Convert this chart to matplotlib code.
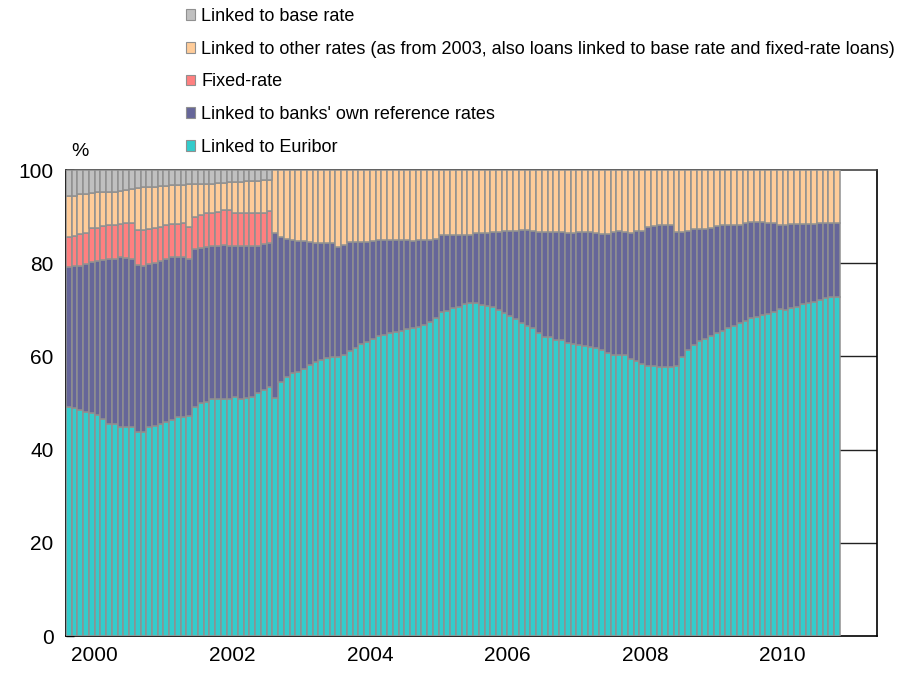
import numpy as np
import matplotlib
matplotlib.use("Agg")
import matplotlib.pyplot as plt
from matplotlib.patches import Patch

plt.rcParams['font.family'] = ['Liberation Sans', 'DejaVu Sans']

# Monthly observations, Jan 2000 - Mar 2011 (upper edge of each stacked band, %)
euribor = [49.2, 48.9, 48.5, 48.0, 47.8, 47.4, 46.5, 45.6, 45.6, 44.9, 44.9, 44.9,
           43.8, 43.8, 44.8, 45.1, 45.5, 46.0, 46.4, 46.9, 47.1, 47.2, 49.2, 49.9,
           50.3, 50.8, 50.8, 50.8, 50.8, 51.2, 50.8, 51.0, 51.2, 52.1, 52.8, 53.5,
           51.0, 54.6, 55.5, 56.4, 56.7, 57.4, 58.2, 58.9, 59.2, 59.6, 59.9, 59.9,
           60.4, 61.2, 61.7, 62.7, 63.0, 63.7, 64.4, 64.6, 65.0, 65.3, 65.5, 65.8,
           66.0, 66.4, 66.7, 67.4, 68.2, 69.6, 69.8, 70.3, 70.7, 71.2, 71.4, 71.4,
           71.0, 70.8, 70.7, 70.0, 69.4, 68.7, 68.0, 67.2, 66.5, 66.0, 65.1, 64.1,
           64.1, 63.5, 63.5, 62.9, 62.7, 62.4, 62.2, 62.0, 61.7, 61.4, 60.8, 60.4,
           60.3, 60.2, 59.4, 59.0, 58.4, 58.0, 58.0, 57.8, 57.8, 57.8, 58.0, 59.9,
           61.4, 62.4, 63.2, 63.7, 64.4, 65.1, 65.5, 66.0, 66.5, 67.1, 67.7, 68.2,
           68.5, 68.9, 69.2, 69.6, 70.1, 70.0, 70.3, 70.7, 71.2, 71.5, 71.7, 72.1,
           72.5, 72.7, 72.8]

banks_own_top = [79.1, 79.3, 79.4, 79.8, 80.3, 80.5, 80.7, 80.9, 80.9, 81.3, 81.1, 81.0,
                 79.6, 79.4, 79.8, 80.0, 80.5, 80.8, 81.3, 81.4, 81.4, 80.8, 83.0, 83.2,
                 83.4, 83.7, 83.7, 83.9, 83.6, 83.7, 83.7, 83.7, 83.7, 83.7, 84.1, 84.3,
                 86.4, 85.6, 85.3, 85.0, 84.8, 84.7, 84.5, 84.4, 84.3, 84.3, 84.3, 83.5,
                 83.9, 84.5, 84.5, 84.5, 84.5, 84.8, 85.0, 85.0, 85.0, 85.0, 85.0, 85.0,
                 84.8, 85.0, 85.0, 85.0, 85.2, 86.1, 86.1, 86.1, 86.1, 86.1, 86.1, 86.4,
                 86.4, 86.4, 86.6, 86.6, 87.0, 87.0, 87.0, 87.1, 87.2, 87.0, 86.6, 86.6,
                 86.8, 86.8, 86.6, 86.4, 86.4, 86.6, 86.6, 86.6, 86.4, 86.3, 86.3, 86.6,
                 87.0, 86.8, 86.4, 86.9, 87.0, 87.7, 88.0, 88.1, 88.2, 88.1, 86.6, 86.8,
                 86.9, 87.3, 87.3, 87.3, 87.6, 88.0, 88.1, 88.2, 88.2, 88.3, 88.7, 88.8,
                 88.9, 88.8, 88.7, 88.7, 88.1, 88.3, 88.4, 88.5, 88.5, 88.5, 88.4, 88.7,
                 88.7, 88.7, 88.7]

# 2000-2002 only
fixed_rate_top = [85.7, 85.9, 86.2, 86.4, 87.5, 87.6, 87.9, 88.1, 88.1, 88.4, 88.6, 88.7,
                  87.1, 87.1, 87.4, 87.6, 87.8, 88.1, 88.4, 88.5, 88.7, 87.8, 90.0, 90.3,
                  90.7, 90.7, 91.0, 91.4, 91.4, 90.8, 90.8, 90.8, 90.8, 90.8, 90.8, 91.3]
other_rates_top = [94.4, 94.4, 94.8, 94.8, 95.0, 95.2, 95.3, 95.3, 95.3, 95.6, 95.7, 95.9,
                   96.1, 96.3, 96.4, 96.4, 96.6, 96.6, 96.7, 96.7, 96.8, 96.9, 96.9, 97.0,
                   97.1, 97.1, 97.3, 97.3, 97.4, 97.4, 97.5, 97.6, 97.6, 97.7, 97.8, 97.9]
total = 100.0

year_labels = ['2000', '2002', '2004', '2006', '2008', '2010']
legend_labels = ['Linked to base rate',
                 'Linked to other rates (as from 2003, also loans linked to base rate and fixed-rate loans)',
                 'Fixed-rate',
                 "Linked to banks' own reference rates",
                 'Linked to Euribor']

c_euribor = '#33CCCC'
c_banks = '#666699'
c_fixed = '#FF8080'
c_other = '#FFCC99'
c_base = '#C0C0C0'
c_edge = '#909090'

eur = np.array(euribor)
btop = np.array(banks_own_top)
ftop = np.array(fixed_rate_top)
otop = np.array(other_rates_top)
n = len(eur)
n_old = len(ftop)
x = np.arange(n)

fig = plt.figure(figsize=(9.15, 6.86), dpi=100)
ax = fig.add_axes([66/915, 1-636/686, (877-66)/915, (636-170)/686])

kw = dict(width=1.0, edgecolor=c_edge, linewidth=1.1, zorder=3)
ax.bar(x, eur, color=c_euribor, **kw)
ax.bar(x, btop - eur, bottom=eur, color=c_banks, **kw)
ax.bar(x[:n_old], ftop - btop[:n_old], bottom=btop[:n_old], color=c_fixed, **kw)
other_bottom = np.r_[ftop, btop[n_old:]]
other_top_all = np.r_[otop, np.full(n - n_old, total)]
ax.bar(x, other_top_all - other_bottom, bottom=other_bottom, color=c_other, **kw)
ax.bar(x[:n_old], total - otop, bottom=otop, color=c_base, **kw)

ax.set_ylim(0, 100)
ax.set_xlim(-0.5, 140.96)

# gridlines
for yv in [20, 40, 60, 80]:
    ax.axhline(yv, color='#222222', lw=1.0, zorder=1)

ax.set_yticks(np.arange(0, 101, 20))
ax.set_yticks(np.arange(10, 100, 20), minor=True)
ax.tick_params(axis='y', which='both', direction='in', length=6, width=1, labelsize=15, pad=9)

year_bounds = -0.5 + 12 * np.arange(1, 12)
ax.set_xticks(year_bounds)
ax.set_xticklabels([])
ax.set_xticks(4.5 + 24 * np.arange(len(year_labels)), minor=True)
ax.set_xticklabels(year_labels, minor=True)
ax.tick_params(axis='x', which='major', direction='in', length=6, width=1.2)
ax.tick_params(axis='x', which='minor', length=0, labelsize=15, pad=7)

for s in ['left', 'bottom', 'right']:
    ax.spines[s].set_color('black')
    ax.spines[s].set_linewidth(1.2)
ax.spines['top'].set_color('#444444')
ax.spines['top'].set_linewidth(1.2)

fig.text(80/915, 1 - 151/686, '%', fontsize=14, ha='center', va='center')

handles = [Patch(facecolor=c, edgecolor=c_edge, linewidth=0.8)
           for c in [c_base, c_other, c_fixed, c_banks, c_euribor]]
fig.legend(handles, legend_labels, loc='upper left', bbox_to_anchor=(186/915, 1 - 8/686),
           frameon=False, fontsize=13, handlelength=0.52, handleheight=0.52,
           handletextpad=0.33, labelspacing=0.87, borderpad=0, borderaxespad=0)

fig.savefig('out.png', dpi=100)
